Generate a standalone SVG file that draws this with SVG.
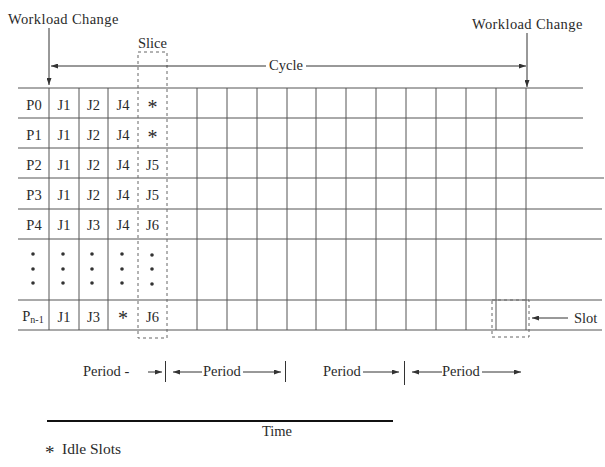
<svg xmlns="http://www.w3.org/2000/svg" width="605" height="467" viewBox="0 0 605 467">
<style>
text{font-family:"Liberation Serif","Times New Roman",serif;fill:#2a2a2a}
.lbl{font-size:14.5px}
.cell{font-size:14.5px;text-anchor:middle}
.st{font-size:20px;text-anchor:middle}
.g{stroke:#555;stroke-width:1;fill:none}
.d{stroke:#666;stroke-width:1;fill:none;stroke-dasharray:3,3}
.a{stroke:#333;stroke-width:1;fill:none}
.dot{fill:#333}
</style>
<defs>
<marker id="ah" markerUnits="userSpaceOnUse" markerWidth="7" markerHeight="5" refX="7" refY="2.5" orient="auto">
<path d="M0,0 L7,2.5 L0,5 z" fill="#333"/>
</marker>
</defs>
<rect width="605" height="467" fill="#fff"/>

<g id="grid">
<path class="g" d="M18,88H583M18,118H583M18,148H583M18,178H604M18,209H602M18,239H602M18,300H602M18,330H602"/>
<path class="g" d="M49,88V330M79,88V330M108,88V330M197,88V330M227,88V330M257,88V330M287,88V330M316,88V330M346,88V330M376,88V330M406,88V330M436,88V330M466,88V330M496,88V330M526,88V330"/>
</g>

<g id="slice">
<rect class="d" x="138" y="52" width="29" height="286"/>
<text class="lbl" x="152.5" y="48" text-anchor="middle">Slice</text>
</g>

<g id="slot">
<rect class="d" x="492" y="300" width="37" height="37"/>
<text class="lbl" x="574" y="323">Slot</text>
</g>

<g id="row-P0">
<text class="cell" x="34" y="110">P0</text><text class="cell" x="64" y="110">J1</text><text class="cell" x="93.5" y="110">J2</text><text class="cell" x="123" y="110">J4</text><text class="st" x="152.5" y="114">*</text>
</g>
<g id="row-P1">
<text class="cell" x="34" y="140">P1</text><text class="cell" x="64" y="140">J1</text><text class="cell" x="93.5" y="140">J2</text><text class="cell" x="123" y="140">J4</text><text class="st" x="152.5" y="144">*</text>
</g>
<g id="row-P2">
<text class="cell" x="34" y="170">P2</text><text class="cell" x="64" y="170">J1</text><text class="cell" x="93.5" y="170">J2</text><text class="cell" x="123" y="170">J4</text><text class="cell" x="152.5" y="170">J5</text>
</g>
<g id="row-P3">
<text class="cell" x="34" y="200">P3</text><text class="cell" x="64" y="200">J1</text><text class="cell" x="93.5" y="200">J2</text><text class="cell" x="123" y="200">J4</text><text class="cell" x="152.5" y="200">J5</text>
</g>
<g id="row-P4">
<text class="cell" x="34" y="230">P4</text><text class="cell" x="64" y="230">J1</text><text class="cell" x="93.5" y="230">J3</text><text class="cell" x="123" y="230">J4</text><text class="cell" x="152.5" y="230">J6</text>
</g>
<g id="row-dots">
<circle class="dot" cx="33" cy="254" r="1.8"/><circle class="dot" cx="33" cy="269" r="1.8"/><circle class="dot" cx="33" cy="283" r="1.8"/>
<circle class="dot" cx="63" cy="254" r="1.8"/><circle class="dot" cx="63" cy="269" r="1.8"/><circle class="dot" cx="63" cy="283" r="1.8"/>
<circle class="dot" cx="92" cy="254" r="1.8"/><circle class="dot" cx="92" cy="269" r="1.8"/><circle class="dot" cx="92" cy="283" r="1.8"/>
<circle class="dot" cx="122" cy="254" r="1.8"/><circle class="dot" cx="122" cy="269" r="1.8"/><circle class="dot" cx="122" cy="283" r="1.8"/>
<circle class="dot" cx="152" cy="255" r="1.8"/><circle class="dot" cx="152" cy="269" r="1.8"/><circle class="dot" cx="152" cy="284" r="1.8"/>
</g>
<g id="row-Pn-1">
<text class="cell" x="33" y="321">P<tspan font-size="10px" dy="2">n-1</tspan></text><text class="cell" x="64" y="322">J1</text><text class="cell" x="93.5" y="322">J3</text><text class="st" x="123" y="325">*</text><text class="cell" x="152.5" y="322">J6</text>
</g>

<g id="wc-left">
<text class="lbl" x="8" y="24" letter-spacing="0.4">Workload Change</text>
</g>
<g id="wc-right">
<text class="lbl" x="472" y="29" letter-spacing="0.4">Workload Change</text>
</g>
<g id="cycle-label">
<text class="lbl" x="286" y="70" text-anchor="middle">Cycle</text>
</g>

<g id="connectors">
<path class="a" d="M49,28V85" marker-end="url(#ah)"/>
<path class="a" d="M527,33V87" marker-end="url(#ah)"/>
<path class="a" d="M266,66H51" marker-end="url(#ah)"/>
<path class="a" d="M306,66H526" marker-end="url(#ah)"/>
<path class="a" d="M568,318H532" marker-end="url(#ah)"/>
</g>

<g id="periods">
<text class="lbl" x="83" y="376">Period -</text>
<path class="a" d="M148,372H162" marker-end="url(#ah)"/>
<path class="a" d="M165.5,361V382"/>
<path class="a" d="M202,372H173" marker-end="url(#ah)"/>
<text class="lbl" x="203" y="376">Period</text>
<path class="a" d="M243,372H281" marker-end="url(#ah)"/>
<path class="a" d="M285.5,361V382"/>
<text class="lbl" x="323" y="376">Period</text>
<path class="a" d="M363,372H399" marker-end="url(#ah)"/>
<path class="a" d="M404.5,361V385"/>
<path class="a" d="M442,372H412" marker-end="url(#ah)"/>
<text class="lbl" x="442" y="376">Period</text>
<path class="a" d="M482,372H521" marker-end="url(#ah)"/>
</g>

<g id="time">
<path d="M47,421H393" stroke="#111" stroke-width="2"/>
<text class="lbl" x="277" y="436" text-anchor="middle">Time</text>
</g>

<g id="legend">
<text x="45" y="459" style="font-size:19px">*</text>
<text x="62" y="454" style="font-size:15.5px">Idle Slots</text>
</g>
</svg>
